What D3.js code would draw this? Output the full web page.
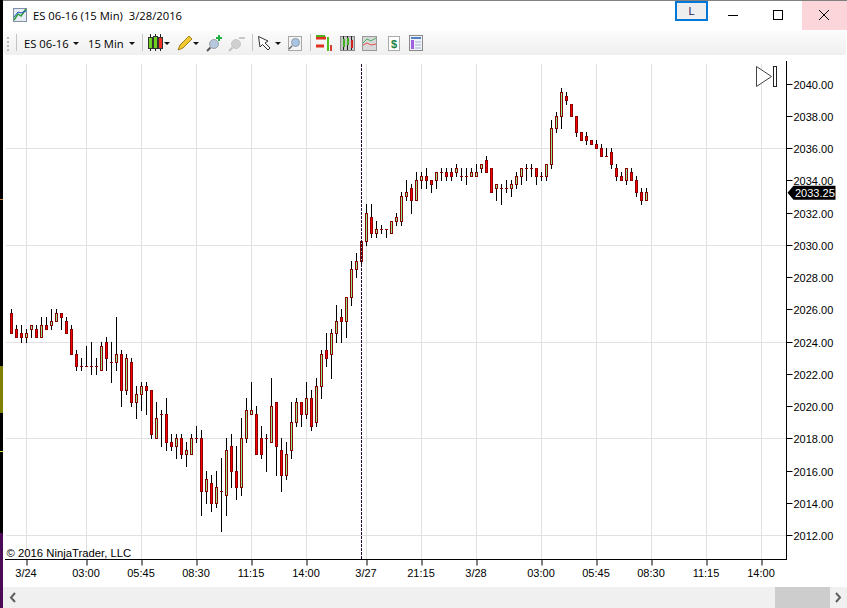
<!DOCTYPE html>
<html>
<head>
<meta charset="utf-8">
<script src="https://cdnjs.cloudflare.com/ajax/libs/d3/7.8.5/d3.min.js"></script>
<style>
  html, body { margin: 0; padding: 0; background: #fff; overflow: hidden; }
  svg { display: block; }
  text { font-family: "Liberation Sans", Arial, sans-serif; fill: #000; }
  .ui { font-family: "Open Sans", "Noto Sans", sans-serif; }
  .axis text { font-size: 11px; }
</style>
</head>
<body>
<svg id="chart" width="847" height="608"></svg>
<script>
// one value per 15 min bar
const opens = [
  2025.75, 2024.75, 2024.5, 2024.25, 2024.75, 2024.75, 2024.25, 2025, 2025, 2025.25,
  2025.75, 2025.25, 2024.75, 2023.25, 2022.5, 2022.5, 2022.5, 2022.5, 2022.25, 2024,
  2022.75, 2022.75, 2023.25, 2021, 2022.75, 2020.25, 2020.75, 2021.25, 2021, 2018,
  2019.5, 2019.5, 2017.75, 2017.5, 2018, 2017, 2017, 2018, 2018, 2014.75,
  2015.25, 2014, 2014.75, 2014.5, 2017.5, 2016, 2015, 2018, 2019.5, 2019.5,
  2018, 2018, 2017.75, 2020.25, 2017.25, 2015.75, 2017.25, 2019, 2020.25, 2019.5,
  2020.5, 2019, 2021.25, 2023.5, 2023.25, 2024.5, 2025.5, 2025.25, 2026.75, 2028.5,
  2029, 2030.25, 2031.75, 2030.75, 2031, 2031, 2030.75, 2031.5, 2031.5, 2033,
  2033.5, 2032.75, 2034, 2034.25, 2034, 2034, 2034.5, 2034.5, 2034.5, 2034.5,
  2034.25, 2034.25, 2034.25, 2034.25, 2034.75, 2035.25, 2034.75, 2033.5, 2033.5, 2033.5,
  2033.5, 2033.75, 2034.25, 2034.75, 2034.75, 2034.75, 2034.25, 2034.25, 2035, 2037.25,
  2038, 2039.25, 2038.75, 2038, 2037, 2036.75, 2036.5, 2036.25, 2036, 2035.5,
  2035.75, 2034.75, 2034.25, 2034, 2034.5, 2034, 2033.25, 2032.75
];
const highs = [
  2026, 2025, 2025, 2024.75, 2025, 2025, 2025.5, 2025.5, 2026, 2026,
  2025.75, 2025.5, 2025, 2023.5, 2023, 2023.75, 2024, 2023, 2024, 2024.25,
  2024, 2025.5, 2023.5, 2023.25, 2023, 2021.25, 2021.5, 2021.5, 2021, 2020.25,
  2019.75, 2020.5, 2018.25, 2018.25, 2018.25, 2017.75, 2018.25, 2018.75, 2018.5, 2016,
  2015.75, 2016, 2016.75, 2018, 2018.25, 2017.5, 2019.25, 2020.5, 2021.5, 2020,
  2018.75, 2018.25, 2021.75, 2020.25, 2018, 2017.75, 2020.25, 2020.5, 2020.25, 2021.5,
  2021, 2021.75, 2023.5, 2024.5, 2024.75, 2026.25, 2026, 2026.75, 2029, 2029.5,
  2030.25, 2032.5, 2032.5, 2031.5, 2031.25, 2031, 2031.5, 2032, 2033.25, 2034,
  2033.75, 2034.5, 2034.5, 2034.75, 2034, 2034.5, 2034.75, 2034.75, 2034.75, 2035,
  2034.75, 2034.75, 2034.75, 2035, 2035, 2035.5, 2034.75, 2033.75, 2033.75, 2034,
  2034, 2034.5, 2034.75, 2035, 2035, 2034.75, 2034.5, 2035, 2037.75, 2038.25,
  2039.75, 2039.5, 2038.75, 2038, 2037, 2037, 2036.5, 2036.5, 2036.25, 2036,
  2036, 2035, 2034.5, 2034.75, 2034.75, 2034.25, 2033.5, 2033.5
];
const lows = [
  2024.5, 2024.25, 2024, 2024, 2024.25, 2024.25, 2024.25, 2024.75, 2024.75, 2025.25,
  2024.75, 2024.5, 2023.25, 2022.25, 2022.25, 2022.5, 2022, 2022, 2022.25, 2022.25,
  2021.5, 2022.25, 2020, 2020.75, 2020, 2019.25, 2019.75, 2019.5, 2018, 2018,
  2017.5, 2017.25, 2017.25, 2016.75, 2016.75, 2016.25, 2017, 2017.75, 2013.25, 2014,
  2013.5, 2013.75, 2012.25, 2013.25, 2015, 2014.25, 2014.5, 2017.75, 2019.5, 2017,
  2016.75, 2016, 2017.75, 2015.75, 2014.75, 2015.5, 2016.75, 2018.75, 2018.75, 2019.25,
  2018.5, 2018.75, 2020.5, 2022.5, 2021.75, 2024, 2024, 2024.25, 2026.25, 2028,
  2028.75, 2030, 2030.5, 2030.5, 2030.75, 2030.5, 2030.75, 2031.25, 2031.25, 2032.75,
  2032, 2032.75, 2033.5, 2033.5, 2033.25, 2033.5, 2034, 2034, 2034, 2034.25,
  2034, 2033.75, 2034.25, 2034.25, 2034.5, 2034.5, 2033.25, 2032.75, 2032.5, 2033.25,
  2033, 2033.5, 2033.75, 2034, 2034.25, 2033.75, 2034, 2034, 2034.75, 2037,
  2037.25, 2038.75, 2038, 2036.75, 2036.5, 2036.25, 2036.25, 2036, 2035.5, 2035.5,
  2034.75, 2034, 2034, 2033.75, 2034, 2033, 2032.5, 2032.75
];
const closes = [
  2024.5, 2024.25, 2024.25, 2024.5, 2025, 2024.25, 2025, 2024.75, 2025.25, 2025.75,
  2025.5, 2024.5, 2023.25, 2022.5, 2022.5, 2022.5, 2022.5, 2022.5, 2023.75, 2023,
  2022.75, 2023.25, 2021, 2023, 2020.25, 2020.75, 2021.25, 2021, 2018.25, 2019.25,
  2019.5, 2017.75, 2017.5, 2018, 2017, 2017.25, 2018, 2018, 2014.75, 2015.5,
  2014, 2015, 2014.75, 2017.25, 2016, 2015, 2018, 2019.75, 2019.75, 2017,
  2017, 2018, 2020, 2017.5, 2015.75, 2017, 2019, 2020.25, 2019.5, 2020.5,
  2018.75, 2021.25, 2023.25, 2023, 2024.5, 2025.25, 2025.25, 2026.75, 2028.5, 2029,
  2030.25, 2032, 2030.75, 2031, 2031, 2031, 2031.5, 2031.75, 2033, 2033.25,
  2032.75, 2034, 2034.25, 2034, 2033.75, 2034.5, 2034.5, 2034.25, 2034.25, 2034.75,
  2034.25, 2034.25, 2034.5, 2034.5, 2035, 2034.5, 2033.25, 2033.75, 2033.5, 2033.5,
  2033.75, 2034.25, 2034.75, 2034.75, 2034.75, 2034.25, 2034.25, 2035, 2037.25, 2038,
  2039.5, 2039, 2038, 2037, 2036.5, 2036.5, 2036.25, 2036, 2035.5, 2035.5,
  2035, 2034.25, 2034, 2034.75, 2034, 2033.25, 2032.75, 2033.25
];

const timeTickBars = [3, 15, 26, 37, 48, 59, 71, 82, 93, 106, 117, 128, 139, 150];
const timeTickLabels = ['3/24', '03:00', '05:45', '08:30', '11:15', '14:00', '3/27',
  '21:15', '3/28', '03:00', '05:45', '08:30', '11:15', '14:00'];
const priceTicks = d3.range(2012, 2041, 2);
const priceGrid = d3.range(2012, 2037, 6);
const sessionBreakBar = 70;
const lastPrice = 2033.25;

const svg = d3.select('#chart');

let xScale = d3.scaleLinear().domain([0, 127]).range([11.5, 646.5]);
let yScale = d3.scaleLinear().domain([2012, 2040]).range([535.5, 84]);
let snap = (v) => Math.floor(v) + 0.5;

// grid
svg.append('g').selectAll('line').data(priceGrid).join('line')
  .attr('x1', 6).attr('x2', 786)
  .attr('y1', d => snap(yScale(d))).attr('y2', d => snap(yScale(d)))
  .attr('stroke', '#e1e1e1');
svg.append('g').selectAll('line').data(timeTickBars).join('line')
  .attr('x1', d => xScale(d)).attr('x2', d => xScale(d))
  .attr('y1', 64).attr('y2', 559)
  .attr('stroke', '#e1e1e1');

// candles
let bars = d3.range(opens.length);
let chart = svg.append('g');
chart.selectAll('.wick').data(bars).join('line')
  .attr('class', 'wick')
  .attr('x1', d => xScale(d)).attr('x2', d => xScale(d))
  .attr('y1', d => Math.floor(yScale(highs[d])))
  .attr('y2', d => Math.floor(yScale(lows[d])) + 1)
  .attr('stroke', '#000');
chart.selectAll('.body').data(bars.filter(d => opens[d] !== closes[d])).join('rect')
  .attr('class', 'body')
  .attr('x', d => xScale(d) - 1)
  .attr('width', 2)
  .attr('y', d => snap(yScale(Math.max(opens[d], closes[d]))))
  .attr('height', d => snap(yScale(Math.min(opens[d], closes[d]))) - snap(yScale(Math.max(opens[d], closes[d]))))
  .attr('fill', d => closes[d] > opens[d] ? '#90ee90' : '#ff0000')
  .attr('stroke', '#8b0000');
chart.selectAll('.doji').data(bars.filter(d => opens[d] === closes[d])).join('line')
  .attr('class', 'doji')
  .attr('x1', d => xScale(d) - 1.5).attr('x2', d => xScale(d) + 1.5)
  .attr('y1', d => snap(yScale(opens[d]))).attr('y2', d => snap(yScale(opens[d])))
  .attr('stroke', '#8b0000');

// vertical dashed line
svg.append('line')
  .attr('x1', xScale(sessionBreakBar)).attr('x2', xScale(sessionBreakBar))
  .attr('y1', 64).attr('y2', 559)
  .attr('stroke', '#2a0a3a')
  .attr('stroke-dasharray', '3,1');

// axes
let yAxis = d3.axisRight(yScale).tickValues(priceTicks).tickFormat(d3.format('.2f')).tickSize(6).tickPadding(1);
let gy = svg.append('g').attr('class', 'axis').attr('transform', 'translate(786.5,0)').call(yAxis);
gy.select('.domain').remove();
gy.selectAll('.tick line').attr('stroke', '#000');
gy.selectAll('.tick').attr('transform', d => 'translate(0,' + snap(yScale(d)) + ')');
gy.selectAll('.tick text').attr('y', 0.5);

let xAxis = d3.axisBottom(xScale).tickValues(timeTickBars)
  .tickFormat((d, i) => timeTickLabels[i]).tickSize(6).tickPadding(4);
let gx = svg.append('g').attr('class', 'axis').attr('transform', 'translate(0,559.5)').call(xAxis);
gx.select('.domain').remove();
gx.selectAll('.tick line').attr('stroke', '#000');
gx.selectAll('.tick text').attr('x', -1);

svg.append('line').attr('x1', 5).attr('x2', 787).attr('y1', 559.5).attr('y2', 559.5).attr('stroke', '#000');
svg.append('line').attr('x1', 786.5).attr('x2', 786.5).attr('y1', 61).attr('y2', 560).attr('stroke', '#000');

svg.append('text').attr('x', 6.5).attr('y', 557).attr('font-size', 11.3).text('\u00a9 2016 NinjaTrader, LLC');

// last price marker
let lastY = yScale(lastPrice);
svg.append('path')
  .attr('d', 'M787.5,' + lastY + 'l6,-7h42v14h-42z')
  .attr('fill', '#000');
svg.append('text').attr('x', 795).attr('y', lastY + 4).attr('font-size', 11)
  .style('fill', '#fff').text(d3.format('.2f')(lastPrice));

// "go to end" button
svg.append('path').attr('d', 'M756.5,66.5L771.5,76.5L756.5,86.5Z').attr('fill', '#fff').attr('stroke', '#444');
svg.append('rect').attr('x', 773.5).attr('y', 66.5).attr('width', 3).attr('height', 20).attr('fill', '#fff').attr('stroke', '#222');

// window frame
svg.append('rect').attr('width', 847).attr('height', 1).attr('fill', '#808080');
svg.append('rect').attr('width', 3).attr('height', 608).attr('fill', '#000');
svg.append('rect').attr('y', 366).attr('width', 3).attr('height', 47).attr('fill', '#7f7f00');
svg.append('rect').attr('y', 533).attr('width', 3).attr('height', 75).attr('fill', '#4b0a55');
svg.append('rect').attr('y', 451).attr('width', 3).attr('height', 1).attr('fill', '#d8e040');
svg.append('rect').attr('y', 199).attr('width', 3).attr('height', 1).attr('fill', '#c08030');

// title bar
svg.append('rect').attr('x', 13.5).attr('y', 8.5).attr('width', 13).attr('height', 13).attr('fill', '#e8ecf4').attr('stroke', '#8090a8');
svg.append('path').attr('d', 'M14,20L18,14L21,16L26,9').attr('fill', 'none').attr('stroke', '#2a9a3a').attr('stroke-width', 1.5);
svg.append('path').attr('d', 'M14,17L18,12L21,13L26,11').attr('fill', 'none').attr('stroke', '#2050c0');
svg.append('text').attr('class', 'ui').attr('x', 33).attr('y', 20).attr('font-size', 11.25).attr('xml:space', 'preserve')
  .text('ES 06-16 (15 Min)  3/28/2016');

svg.append('rect').attr('x', 676).attr('y', 2).attr('width', 31).attr('height', 18).attr('fill', '#eeeeee').attr('stroke', '#0078d7').attr('stroke-width', 2);
svg.append('text').attr('x', 691.5).attr('y', 15).attr('text-anchor', 'middle').attr('font-size', 11).style('fill', '#1a1a6a').text('L');
svg.append('line').attr('x1', 728).attr('x2', 738).attr('y1', 15.5).attr('y2', 15.5).attr('stroke', '#000');
svg.append('rect').attr('x', 773.5).attr('y', 10.5).attr('width', 9).attr('height', 9).attr('fill', 'none').attr('stroke', '#000');
svg.append('rect').attr('x', 802).attr('y', 1).attr('width', 45).attr('height', 29).attr('fill', '#fbd5d9');
svg.append('path').attr('d', 'M819,10L829,20M829,10L819,20').attr('stroke', '#000');

// toolbar
let grad = svg.append('defs').append('linearGradient').attr('id', 'tb').attr('x1', 0).attr('x2', 0).attr('y1', 0).attr('y2', 1);
grad.append('stop').attr('offset', 0).attr('stop-color', '#fbfbfb');
grad.append('stop').attr('offset', 1).attr('stop-color', '#efefef');
svg.append('rect').attr('x', 4).attr('y', 31).attr('width', 842).attr('height', 24).attr('rx', 2).attr('fill', 'url(#tb)');

svg.append('g').selectAll('rect').data([37, 41, 45, 49]).join('rect')
  .attr('x', 7).attr('y', d => d).attr('width', 2).attr('height', 2).attr('fill', '#b8b8b8');
svg.append('g').selectAll('line').data([16.5, 142.5, 252.5, 310.5]).join('line')
  .attr('x1', d => d).attr('x2', d => d).attr('y1', 34).attr('y2', 51).attr('stroke', '#c4c4c4');
svg.append('text').attr('class', 'ui').attr('x', 24).attr('y', 47.5).attr('font-size', 11.25).text('ES 06-16');
svg.append('text').attr('class', 'ui').attr('x', 88).attr('y', 47.5).attr('font-size', 11.25).text('15 Min');
svg.append('g').selectAll('path').data([76, 132, 167, 196, 278]).join('path')
  .attr('d', d => 'M' + (d - 3) + ',42h6l-3,3z').attr('fill', '#111');

// toolbar icons
let icons = svg.append('g');
// candles
icons.append('path').attr('d', 'M150.5,34v17M155.5,34v17M160.5,34v17').attr('stroke', '#222');
icons.append('rect').attr('x', 148.5).attr('y', 37.5).attr('width', 4).attr('height', 11).attr('fill', '#70d020').attr('stroke', '#333');
icons.append('rect').attr('x', 153.5).attr('y', 36.5).attr('width', 4).attr('height', 12).attr('fill', '#70d020').attr('stroke', '#333');
icons.append('rect').attr('x', 158.5).attr('y', 37.5).attr('width', 4).attr('height', 11).attr('fill', '#f03020').attr('stroke', '#333');
// pencil
icons.append('path').attr('d', 'M178,50L180,45L189,36L192,39L183,48Z').attr('fill', '#f0c830').attr('stroke', '#a08020');
// zoom in / out
icons.append('circle').attr('cx', 214).attr('cy', 44).attr('r', 4.5).attr('fill', '#b8c8dc').attr('stroke', '#98a4b0');
icons.append('path').attr('d', 'M210.5,47.5L207,51').attr('stroke', '#555').attr('stroke-width', 2);
icons.append('path').attr('d', 'M216,38h6M219,35v6').attr('stroke', '#20b040').attr('stroke-width', 2);
icons.append('circle').attr('cx', 236).attr('cy', 44).attr('r', 4.5).attr('fill', '#d0d0d0').attr('stroke', '#c8c8c8');
icons.append('path').attr('d', 'M232.5,47.5L229,51').attr('stroke', '#c0c0c0').attr('stroke-width', 2);
icons.append('path').attr('d', 'M239,38h6').attr('stroke', '#c8c8c8').attr('stroke-width', 2);
// cursor
icons.append('path').attr('d', 'M258.5,36.5L260,47L262.5,44.5L268,50L270,48L265,43L268,41Z').attr('fill', '#fff').attr('stroke', '#333');
// magnifier box
icons.append('rect').attr('x', 288.5).attr('y', 36.5).attr('width', 13).attr('height', 14).attr('fill', '#f4f4f4').attr('stroke', '#a8a8a8');
icons.append('circle').attr('cx', 295.5).attr('cy', 42.5).attr('r', 4).attr('fill', '#a8c4e4').attr('stroke', '#909ca8');
icons.append('path').attr('d', 'M292,46L289,49').attr('stroke', '#666').attr('stroke-width', 1.5);
// strategy
icons.append('path').attr('d', 'M316,38h10M316,46h8').attr('stroke', '#e03020').attr('stroke-width', 3);
icons.append('path').attr('d', 'M316,36h9').attr('stroke', '#50b020').attr('stroke-width', 2);
icons.append('path').attr('d', 'M328,37v14').attr('stroke', '#50c020').attr('stroke-width', 2);
icons.append('path').attr('d', 'M331,45v6').attr('stroke', '#d04030').attr('stroke-width', 2);
// chart box
icons.append('rect').attr('x', 340.5).attr('y', 36.5).attr('width', 14).attr('height', 14).attr('fill', '#c8c8c8').attr('stroke', '#888');
icons.append('path').attr('d', 'M343.5,36v14M347.5,36v14M351.5,36v14').attr('stroke', '#222');
icons.append('path').attr('d', 'M344,39v8M348,38v7').attr('stroke', '#40b020').attr('stroke-width', 2);
icons.append('path').attr('d', 'M352,40v8').attr('stroke', '#d02020').attr('stroke-width', 2);
// indicator box
icons.append('rect').attr('x', 362.5).attr('y', 36.5).attr('width', 14).attr('height', 14).attr('fill', '#d8d8d8').attr('stroke', '#999');
icons.append('path').attr('d', 'M363,43L367,39L371,41L376,38').attr('fill', 'none').attr('stroke', '#40b060');
icons.append('path').attr('d', 'M363,45L367,43L371,45L376,44').attr('fill', 'none').attr('stroke', '#e05050');
// dollar page
icons.append('rect').attr('x', 388.5).attr('y', 36.5).attr('width', 11).attr('height', 14).attr('fill', '#fff').attr('stroke', '#aaa');
icons.append('text').attr('x', 394).attr('y', 48).attr('text-anchor', 'middle').attr('font-size', 11).attr('font-weight', 'bold').style('fill', '#188040').text('$');
// table
icons.append('rect').attr('x', 409.5).attr('y', 35.5).attr('width', 13).attr('height', 15).attr('fill', '#f0f4fa').attr('stroke', '#888');
icons.append('rect').attr('x', 411).attr('y', 37).attr('width', 10).attr('height', 2).attr('fill', '#5080c0');
icons.append('rect').attr('x', 411).attr('y', 40).attr('width', 3).attr('height', 9).attr('fill', '#a060e0');
icons.append('path').attr('d', 'M415,42h6M415,45h6M415,48h6').attr('stroke', '#a0b0d0');

// scrollbar
svg.append('rect').attr('x', 3).attr('y', 587).attr('width', 844).attr('height', 21).attr('fill', '#f0f0f0');
svg.append('rect').attr('x', 775).attr('y', 587).attr('width', 55).attr('height', 21).attr('fill', '#cdcdcd');
svg.append('path').attr('d', 'M15,593L11,597.5L15,602').attr('fill', 'none').attr('stroke', '#606060').attr('stroke-width', 2);
svg.append('path').attr('d', 'M836,593L840,597.5L836,602').attr('fill', 'none').attr('stroke', '#606060').attr('stroke-width', 2);
</script>
</body>
</html>
